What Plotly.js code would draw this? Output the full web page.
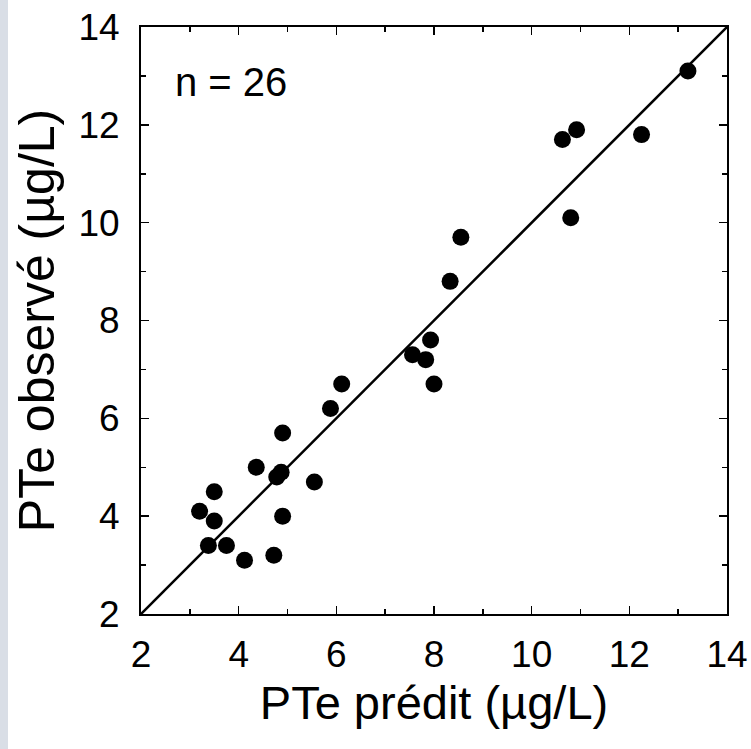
<!DOCTYPE html>
<html>
<head>
<meta charset="utf-8">
<script src="https://cdn.plot.ly/plotly-3.0.1.min.js"></script>
<style>html,body{margin:0;padding:0;background:#fff;}#chart{width:751px;height:749px;}</style>
</head>
<body>
<div id="chart"></div>
<script>
// Predicted PTe (µg/L)
const predicted = [4.36, 4.87, 4.78, 5.55, 3.50, 3.20, 3.50, 4.90, 3.38, 3.75, 4.12, 4.72,
                   6.11, 5.88, 4.90, 7.93, 7.56, 7.83, 8.00, 13.20, 10.92, 10.63, 12.25, 10.80, 8.55, 8.33];
// Observed PTe (µg/L)
const observed  = [5.00, 4.90, 4.80, 4.70, 4.50, 4.10, 3.90, 4.00, 3.40, 3.40, 3.10, 3.20,
                   6.70, 6.20, 5.70, 7.60, 7.30, 7.20, 6.70, 13.10, 11.90, 11.70, 11.80, 10.10, 9.70, 8.80];
const lineX = [2, 14];
const lineY = [2, 14];
const tickVals = [2, 4, 6, 8, 10, 12, 14];
const tickText = ["2", "4", "6", "8", "10", "12", "14"];
const nLabel = "n = 26";

const font = "Liberation Sans, Arial, Helvetica, sans-serif";

const traces = [
  {x: lineX, y: lineY, mode: "lines", type: "scatter",
   line: {color: "#000", width: 2.5}, hoverinfo: "skip", showlegend: false},
  {x: predicted, y: observed, mode: "markers", type: "scatter",
   marker: {color: "#000", size: 17, line: {width: 0}}, showlegend: false}
];

const axisBase = {
  range: [2, 14], tickmode: "array", tickvals: tickVals, ticktext: tickText,
  ticks: "inside", ticklen: 8, tickwidth: 1.5, tickcolor: "#000",
  showline: true, linecolor: "#000", linewidth: 2, mirror: "allticks",
  showgrid: false, zeroline: false,
  tickfont: {family: font, size: 37, color: "#000"},
  minor: {ticks: "inside", ticklen: 5, tickwidth: 1.5, tickcolor: "#000", dtick: 1, tick0: 0, showgrid: false}
};

const layout = {
  width: 751, height: 749,
  margin: {l: 141, r: 24, t: 27, b: 135},
  paper_bgcolor: "#fff", plot_bgcolor: "#fff",
  showlegend: false,
  xaxis: Object.assign({}, axisBase, {
    title: {text: "PTe prédit (µg/L)", font: {family: font, size: 47, color: "#000"}, standoff: 12},
    ticklabelstandoff: 7
  }),
  yaxis: Object.assign({}, axisBase, {
    title: {text: "PTe observé (µg/L)", font: {family: font, size: 50, color: "#000"}, standoff: 8},
    ticklabelstandoff: 12
  }),
  annotations: [{
    text: nLabel, xref: "x", yref: "y", x: 2.66, y: 12.87, xanchor: "left", yanchor: "middle",
    showarrow: false, font: {family: font, size: 40, color: "#000"}
  }],
  shapes: [{
    type: "rect", xref: "paper", yref: "paper", x0: -141/586, x1: -133/586, y0: -135/587, y1: 1 + 27/587,
    line: {width: 0}, fillcolor: "#d9dee6", layer: "below"
  }]
};

Plotly.newPlot("chart", traces, layout, {displayModeBar: false, staticPlot: true});
</script>
</body>
</html>
